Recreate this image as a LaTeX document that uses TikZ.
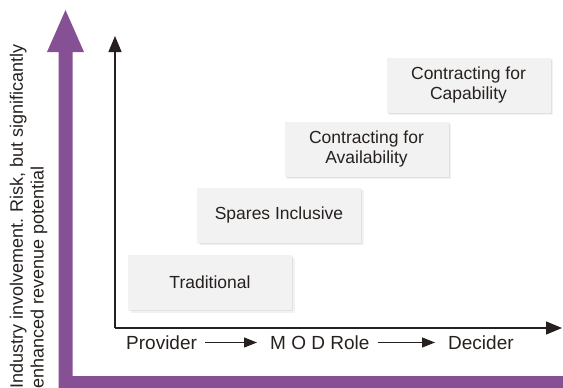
\documentclass[tikz,border=0pt]{standalone}
\usepackage{fontspec}
\setmainfont{Liberation Sans}
\usepackage{tikz}
\usetikzlibrary{arrows.meta,shadows}
\definecolor{modpurple}{RGB}{134,80,148}
\definecolor{boxgray}{RGB}{242,242,242}
\definecolor{inkdark}{RGB}{38,33,30}

\begin{document}
\begin{tikzpicture}[x=1pt,y=-1pt]
\useasboundingbox (0,0) rectangle (563,388);
\tikzstyle{stagebox}=[rectangle, fill=boxgray, minimum width=164pt, minimum height=55pt,
    align=center, text=inkdark, font=\fontsize{17.5}{20.5}\selectfont,
    drop shadow={shadow xshift=2.5pt, shadow yshift=-2.5pt, opacity=0.05, fill=black},
    drop shadow={shadow xshift=1.2pt, shadow yshift=-1.2pt, opacity=0.07, fill=black}]
\tikzstyle{rolelabel}=[anchor=base west, inner sep=5pt, text=inkdark, font=\fontsize{19}{22}\selectfont]
\tikzstyle{sidelabel}=[anchor=base west, rotate=90, inner sep=0pt, text=inkdark, font=\fontsize{18}{20}\selectfont]
\tikzstyle{axis}=[draw=inkdark, line width=1.3pt, -{Triangle[length=16pt,width=13pt]}]
\tikzstyle{rolearrow}=[draw=inkdark, line width=1.2pt, -{Triangle[length=13pt,width=10pt]}, shorten <=3pt, shorten >=8pt]

% purple arrow
\fill[modpurple] (58.5,388) -- (58.5,52) -- (47,52) -- (65.5,10) -- (84,52) -- (72.5,52)
    -- (72.5,376) -- (563,376) -- (563,388) -- cycle;

\node[sidelabel] (risk1) at (23,389) {Industry involvement. Risk, but significantly};
\node[sidelabel] (risk2) at (43.5,389) {enhanced revenue potential};

% axes
\coordinate (origin) at (115,328);
\coordinate (ytip) at (115,36);
\coordinate (xtip) at (562,328);
\draw[axis] (origin) -- (ytip);
\draw[axis] (origin) -- (xtip);

\node[stagebox] (trad) at (210,282.5) {Traditional};
\node[stagebox] (spares) at (279,215) {Spares Inclusive};
\node[stagebox] (avail) at (366.5,149) {Contracting for\\Availability};
\node[stagebox] (capab) at (468.5,85) {Contracting for\\Capability};

\node[rolelabel] (provider) at (121,349.3) {Provider};
\node[rolelabel] (modrole) at (265,349.3) {M O D Role};
\node[rolelabel] (decider) at (443,349.3) {Decider};
\draw[rolearrow] (provider) -- (modrole);
\draw[rolearrow] (modrole) -- (decider);
\end{tikzpicture}
\end{document}
